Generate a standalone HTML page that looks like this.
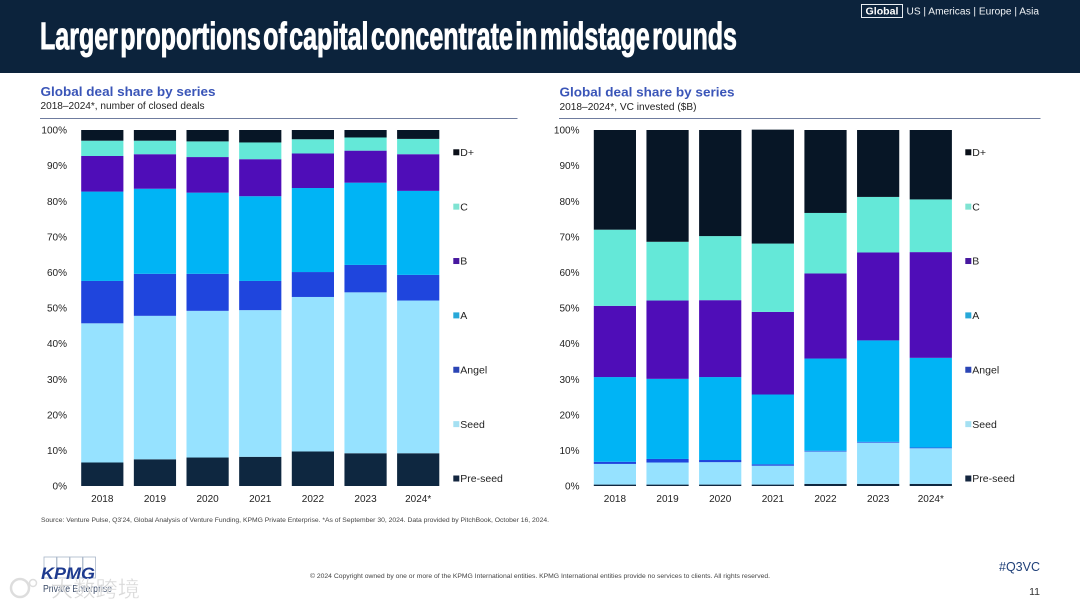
<!DOCTYPE html>
<html lang="en">
<head>
<meta charset="utf-8">
<title>Larger proportions of capital concentrate in midstage rounds</title>
<style>
html,body{margin:0;padding:0;background:#fff;}
body{width:1080px;height:608px;overflow:hidden;position:relative;font-family:"Liberation Sans","Noto Sans CJK SC",sans-serif;}
svg{position:absolute;left:0;top:0;display:block;filter:blur(0.35px);}
text{font-family:"Liberation Sans","Noto Sans CJK SC",sans-serif;}
</style>
</head>
<body>
<svg id="slide-svg" width="1080" height="608" viewBox="0 0 1080 608">
  <rect x="0" y="0" width="1080" height="73" fill="#0c233c"/>
  <text x="40" y="49" font-size="38" font-weight="700" fill="#fff" stroke="#fff" stroke-width="0.9" word-spacing="-7" textLength="697" lengthAdjust="spacingAndGlyphs">Larger proportions of capital concentrate in midstage rounds</text>
  <rect x="861.5" y="4.5" width="41" height="13" fill="none" stroke="#e8edf2" stroke-width="1"/>
  <text x="865.5" y="14.5" font-size="10" font-weight="700" fill="#fff" textLength="33" lengthAdjust="spacingAndGlyphs">Global</text>
  <text x="906.5" y="14.5" font-size="10" fill="#f0f3f6" textLength="132.5" lengthAdjust="spacingAndGlyphs">US | Americas | Europe | Asia</text>

  <text x="40.5" y="96" font-size="13" font-weight="700" fill="#3a55b8" textLength="175" lengthAdjust="spacingAndGlyphs">Global deal share by series</text>
  <text x="40.5" y="109" font-size="10" fill="#222" textLength="164" lengthAdjust="spacingAndGlyphs">2018–2024*, number of closed deals</text>
  <rect x="40" y="118" width="477.5" height="1" fill="#6f7c9f"/>

  <text x="559.5" y="96.5" font-size="13" font-weight="700" fill="#3a55b8" textLength="175" lengthAdjust="spacingAndGlyphs">Global deal share by series</text>
  <text x="559.5" y="110" font-size="10" fill="#222" textLength="137" lengthAdjust="spacingAndGlyphs">2018–2024*, VC invested ($B)</text>
  <rect x="559" y="118" width="481.5" height="1" fill="#6f7c9f"/>

  <g id="left-chart"></g>
  <g id="right-chart"></g>

  <text x="41" y="522" font-size="6.4" fill="#444" textLength="508" lengthAdjust="spacingAndGlyphs">Source: Venture Pulse, Q3'24, Global Analysis of Venture Funding, KPMG Private Enterprise. *As of September 30, 2024. Data provided by PitchBook, October 16, 2024.</text>

  <g>
    <rect x="44" y="557" width="12.5" height="21" fill="none" stroke="#a9b6c9" stroke-width="0.8"/>
    <rect x="57" y="557" width="12.5" height="21" fill="none" stroke="#a9b6c9" stroke-width="0.8"/>
    <rect x="70" y="557" width="12.5" height="21" fill="none" stroke="#a9b6c9" stroke-width="0.8"/>
    <rect x="83" y="557" width="12.5" height="21" fill="none" stroke="#a9b6c9" stroke-width="0.8"/>
    <text x="41" y="579" font-size="17" font-weight="700" font-style="italic" fill="#1d3a8f" textLength="54" lengthAdjust="spacingAndGlyphs">KPMG</text>
    <text x="43" y="592" font-size="10" fill="#3a4a66" textLength="69" lengthAdjust="spacingAndGlyphs">Private Enterprise</text>
  </g>
  <g opacity="0.8">
    <circle cx="20" cy="588" r="9" fill="none" stroke="#d5d5d5" stroke-width="2.5"/>
    <circle cx="33" cy="583" r="3.5" fill="none" stroke="#d5d5d5" stroke-width="1.5"/>
    <text x="51" y="597" font-size="22" fill="#cfcfcf" textLength="89" lengthAdjust="spacingAndGlyphs" stroke="#fff" stroke-width="0.4">大数跨境</text>
  </g>

  <text x="310" y="578" font-size="6.4" fill="#444" textLength="460" lengthAdjust="spacingAndGlyphs">© 2024 Copyright owned by one or more of the KPMG International entities. KPMG International entities provide no services to clients. All rights reserved.</text>
  <text x="1040" y="571" font-size="12.5" fill="#1e3f78" text-anchor="end">#Q3VC</text>
  <text x="1040" y="595" font-size="10.5" fill="#333" text-anchor="end">11</text>
</svg>
<script>
const categories = ["2018", "2019", "2020", "2021", "2022", "2023", "2024*"];
const tickLabels = ["0%", "10%", "20%", "30%", "40%", "50%", "60%", "70%", "80%", "90%", "100%"];
const tickValues = [0, 10, 20, 30, 40, 50, 60, 70, 80, 90, 100];
const seriesNames = ["Pre-seed", "Seed", "Angel", "A", "B", "C", "D+"];

const dealsPreSeed = [6.6, 7.5, 8.0, 8.2, 9.7, 9.2, 9.2];
const dealsSeed = [39.1, 40.3, 41.2, 41.2, 43.4, 45.2, 42.9];
const dealsAngel = [11.9, 11.8, 10.4, 8.2, 7.0, 7.7, 7.2];
const dealsA = [25.1, 23.9, 22.8, 23.8, 23.6, 23.1, 23.6];
const dealsB = [10.0, 9.7, 10.0, 10.4, 9.7, 9.0, 10.3];
const dealsC = [4.3, 3.8, 4.4, 4.7, 4.0, 3.7, 4.3];
const dealsD = [3.0, 3.0, 3.2, 3.5, 2.6, 2.1, 2.5];

const investedPreSeed = [0.4, 0.4, 0.4, 0.4, 0.6, 0.6, 0.6];
const investedSeed = [5.8, 6.2, 6.3, 5.3, 9.1, 11.6, 10.0];
const investedAngel = [0.6, 1.0, 0.6, 0.4, 0.2, 0.2, 0.2];
const investedA = [23.8, 22.5, 23.3, 19.6, 25.9, 28.5, 25.2];
const investedB = [20.0, 22.0, 21.6, 23.2, 23.9, 24.7, 29.7];
const investedC = [21.4, 16.5, 18.0, 19.2, 17.0, 15.6, 14.8];
const investedD = [28.0, 31.4, 29.8, 32.0, 23.3, 18.8, 19.5];

const dealsSeries = [dealsPreSeed, dealsSeed, dealsAngel, dealsA, dealsB, dealsC, dealsD];
const investedSeries = [investedPreSeed, investedSeed, investedAngel, investedA, investedB, investedC, investedD];

const SVG_NS = "http://www.w3.org/2000/svg";
const barColor = { "Pre-seed": "#0e2740", "Seed": "#96e2ff", "Angel": "#1f45dd", "A": "#00b4f5", "B": "#4f0db8", "C": "#64e8d8", "D+": "#071626" };
const keyColor = { "Pre-seed": "#14263f", "Seed": "#a5e0f2", "Angel": "#2b45b5", "A": "#27a8d8", "B": "#47189f", "C": "#7fe3d2", "D+": "#0a0f18" };

function yScale(v) {
  const bottom = 486, plotHeight = 356;
  return bottom - (v / 100) * plotHeight;
}

function bandX(plotLeft, i) {
  return plotLeft + i * 52.65;
}

function drawChart(groupId, seriesValues, plotLeft, tickRight, legendLeft) {
  const group = document.getElementById(groupId);
  const barWidth = 42.2;

  tickValues.forEach(function (tv, t) {
    const label = document.createElementNS(SVG_NS, "text");
    label.setAttribute("x", tickRight);
    label.setAttribute("y", yScale(tv) + 3.6);
    label.setAttribute("font-size", "10");
    label.setAttribute("fill", "#222");
    label.setAttribute("text-anchor", "end");
    
    
    label.textContent = tickLabels[t];
    group.appendChild(label);
  });

  categories.forEach(function (cat, i) {
    let cumulative = 0;
    const x = bandX(plotLeft, i);
    seriesValues.forEach(function (values, s) {
      const v = values[i];
      const rect = document.createElementNS(SVG_NS, "rect");
      rect.setAttribute("x", x);
      rect.setAttribute("y", yScale(cumulative + v));
      rect.setAttribute("width", barWidth);
      rect.setAttribute("height", yScale(cumulative) - yScale(cumulative + v));
      rect.setAttribute("fill", barColor[seriesNames[s]]);
      
      
      group.appendChild(rect);
      cumulative += v;
    });
    const xLabel = document.createElementNS(SVG_NS, "text");
    xLabel.setAttribute("x", x + barWidth / 2);
    xLabel.setAttribute("y", 502);
    xLabel.setAttribute("font-size", "10");
    xLabel.setAttribute("fill", "#222");
    xLabel.setAttribute("text-anchor", "middle");
    
    
    xLabel.textContent = cat;
    group.appendChild(xLabel);
  });

  seriesNames.forEach(function (name, s) {
    const cy = 478.5 - s * 54.37;
    const swatch = document.createElementNS(SVG_NS, "rect");
    swatch.setAttribute("x", legendLeft);
    swatch.setAttribute("y", cy - 3);
    swatch.setAttribute("width", 6);
    swatch.setAttribute("height", 6);
    swatch.setAttribute("fill", keyColor[name]);
    
    
    group.appendChild(swatch);
    const text = document.createElementNS(SVG_NS, "text");
    text.setAttribute("x", legendLeft + 7);
    text.setAttribute("y", cy + 3.7);
    text.setAttribute("font-size", "10.5");
    text.setAttribute("fill", "#222");
    
    
    text.textContent = name;
    group.appendChild(text);
  });
}

drawChart("left-chart", dealsSeries, 81.2, 67, 453.3);
drawChart("right-chart", investedSeries, 593.8, 579.5, 965.3);
</script>
</body>
</html>
